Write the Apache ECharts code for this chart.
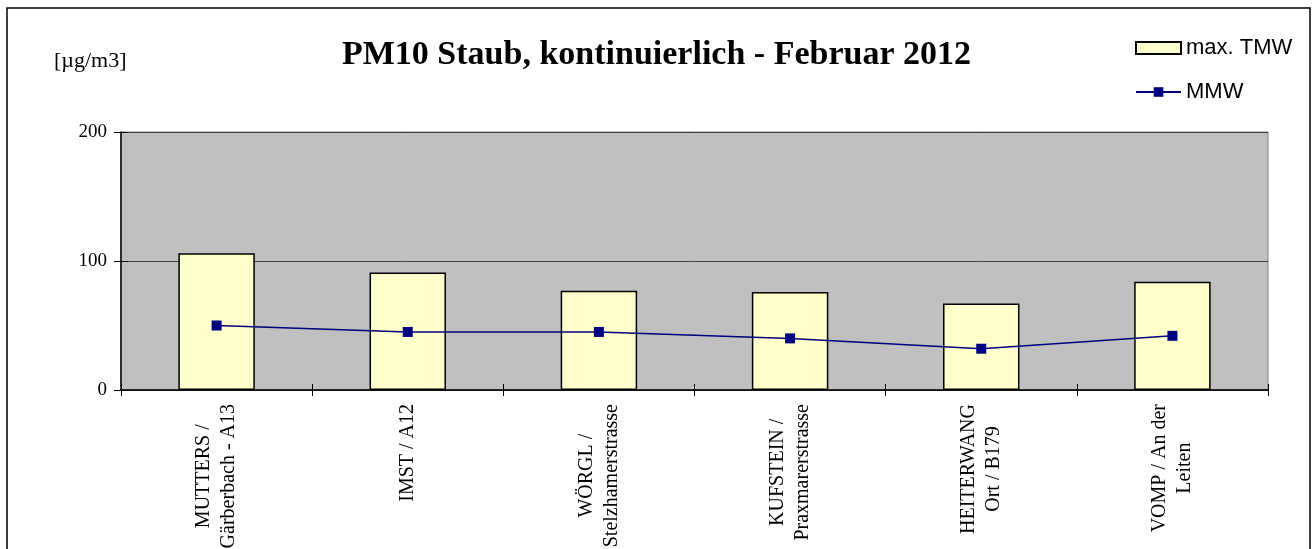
<!DOCTYPE html>
<html>
<head>
<meta charset="utf-8">
<script src="https://cdn.jsdelivr.net/npm/echarts@6/dist/echarts.min.js"></script>
<style>
html,body{margin:0;padding:0;background:#fff;}
#chart{width:1313px;height:549px;}
</style>
</head>
<body>
<div id="chart"></div>
<script>
var categories = [
  ['MUTTERS /', 'Gärberbach - A13'],
  ['IMST / A12'],
  ['WÖRGL /', 'Stelzhamerstrasse'],
  ['KUFSTEIN /', 'Praxmarerstrasse'],
  ['HEITERWANG', 'Ort / B179'],
  ['VOMP / An der', 'Leiten']
];
var maxTMW = [106, 91, 77, 76, 67, 84];
var MMW = [50, 45, 45, 40, 32, 42];
var yTicks = [0, 100, 200];

var chart = echarts.init(document.getElementById('chart'));
var serif = '"Liberation Serif", "Times New Roman", serif';
var sans = '"Liberation Sans", Arial, sans-serif';
var catData = categories.map(function (c) { return c.join('\n'); });

chart.setOption({
  animation: false,
  backgroundColor: '#fff',
  title: {
    text: 'PM10 Staub, kontinuierlich - Februar 2012',
    left: 'center',
    top: 33,
    textStyle: { fontFamily: serif, fontWeight: 'bold', fontSize: 34, color: '#000' }
  },
  legend: {
    orient: 'vertical',
    left: 1130,
    top: 32,
    padding: 5,
    itemWidth: 45,
    itemHeight: 12,
    itemGap: 22,
    textStyle: { fontFamily: sans, fontSize: 22, color: '#000' },
    data: [{ name: 'max. TMW', icon: 'rect' }, { name: 'MMW' }]
  },
  grid: {
    left: 121, right: 45, top: 132, bottom: 159,
    outerBoundsMode: 'none',
    containLabel: false,
    show: true, backgroundColor: '#c0c0c0', borderColor: '#808080', borderWidth: 1
  },
  xAxis: [
    {
      type: 'category',
      data: catData,
      axisLine: { lineStyle: { color: '#000', width: 1.5 } },
      axisTick: { show: true, length: 6, lineStyle: { color: '#000' } },
      axisLabel: {
        rotate: 90,
        margin: 14,
        interval: 0,
        color: '#000',
        fontFamily: serif,
        fontSize: 20,
        lineHeight: 25,
        formatter: function (v) {
          return v.split('\n').map(function (s) { return '{c|' + s + '}'; }).join('\n');
        },
        rich: { c: { align: 'center', fontFamily: serif, fontSize: 20, lineHeight: 25, color: '#000' } }
      }
    },
    {
      type: 'category',
      data: catData,
      position: 'bottom',
      offset: 0,
      axisLine: { show: false },
      axisTick: { show: true, inside: true, length: 6, lineStyle: { color: '#000' } },
      axisLabel: { show: false },
      splitLine: { show: false }
    }
  ],
  yAxis: [
    {
      type: 'value',
      min: yTicks[0],
      max: yTicks[yTicks.length - 1],
      interval: 100,
      axisLine: { show: true, lineStyle: { color: '#000', width: 1.5 } },
      axisTick: { show: true, length: 7, lineStyle: { color: '#000' } },
      axisLabel: { margin: 14, color: '#000', fontFamily: serif, fontSize: 19 },
      splitLine: { show: true, lineStyle: { color: '#404040', width: 1 } }
    },
    {
      type: 'value',
      position: 'left',
      offset: 0,
      min: yTicks[0],
      max: yTicks[yTicks.length - 1],
      interval: 100,
      axisLine: { show: false },
      axisTick: { show: true, inside: true, length: 7, lineStyle: { color: '#000' } },
      axisLabel: { show: false },
      splitLine: { show: false }
    }
  ],
  series: [
    {
      name: 'max. TMW',
      type: 'bar',
      data: maxTMW,
      barWidth: '40%',
      itemStyle: { color: '#ffffcc', borderColor: '#000', borderWidth: 1.5 }
    },
    {
      name: 'MMW',
      type: 'line',
      data: MMW,
      symbol: 'rect',
      symbolSize: 10,
      lineStyle: { color: '#000080', width: 1.5 },
      itemStyle: { color: '#000080' }
    }
  ],
  graphic: [
    {
      type: 'rect',
      shape: { x: 7, y: 8, width: 1303, height: 600 },
      style: { fill: 'none', stroke: '#000', lineWidth: 1.5 },
      silent: true
    },
    {
      type: 'text',
      left: 54,
      top: 50,
      style: { text: '[µg/m3]', fontFamily: serif, fontSize: 22, fill: '#000' }
    }
  ]
});
</script>
</body>
</html>
